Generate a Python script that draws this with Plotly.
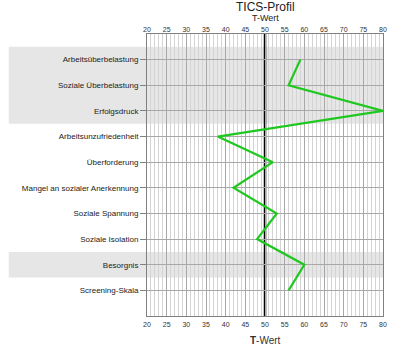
import plotly.graph_objects as go

categories = ["Arbeitsüberbelastung", "Soziale Überbelastung", "Erfolgsdruck",
              "Arbeitsunzufriedenheit", "Überforderung", "Mangel an sozialer Anerkennung",
              "Soziale Spannung", "Soziale Isolation", "Besorgnis", "Screening-Skala"]
t_values = [59, 56, 80, 38, 52, 42, 53, 48, 60, 56]
highlight_rows = [1, 2, 3, 9]  # shaded rows (1-based)
x_ticks = [20, 25, 30, 35, 40, 45, 50, 55, 60, 65, 70, 75, 80]

positions = list(range(1, len(categories) + 1))

fig = go.Figure()
fig.add_trace(go.Scatter(x=t_values, y=positions, mode="lines",
                         line=dict(color="#1ec81e", width=2.2), showlegend=False,
                         hoverinfo="skip"))
# invisible trace for the top axis
fig.add_trace(go.Scatter(x=[20, 80], y=[1, 1], xaxis="x2", mode="lines",
                         line=dict(width=0, color="rgba(0,0,0,0)"),
                         showlegend=False, hoverinfo="skip"))

shapes = []
x0_paper = (7 - 147) / (386 - 147)
rows = sorted(highlight_rows)
groups = []
for r in rows:
    if groups and r == groups[-1][1] + 1:
        groups[-1][1] = r
    else:
        groups.append([r, r])
for a, b in groups:
    shapes.append(dict(type="rect", xref="paper", yref="y", x0=x0_paper, x1=1,
                       y0=a - 0.5, y1=b + 0.5, fillcolor="#e6e6e6", opacity=1,
                       line=dict(width=0), layer="below"))
shapes.append(dict(type="line", xref="x", yref="paper", x0=50, x1=50, y0=0, y1=1,
                   opacity=1, line=dict(color="black", width=2.5), layer="between"))

fig.update_layout(
    width=399, height=350,
    margin=dict(l=147, r=13, t=34, b=34),
    paper_bgcolor="white", plot_bgcolor="rgba(0,0,0,0)",
    shapes=shapes,
    xaxis=dict(range=[20, 80], tickvals=x_ticks, color="#333333",
               tickfont=dict(family="Liberation Sans, Arial", size=7, color="#333333"),
               showgrid=True, gridcolor="#a8a8a8", gridwidth=1,
               minor=dict(dtick=1, showgrid=True, gridcolor="#d4d4d4", gridwidth=1),
               showline=True, linecolor="#808080", linewidth=1, mirror=True,
               ticks="", zeroline=False, ticklabelstandoff=2),
    xaxis2=dict(range=[20, 80], tickvals=x_ticks, overlaying="x", anchor="y",
                color="#333333",
                tickfont=dict(family="Liberation Sans, Arial", size=7, color="#333333"),
                side="top", showgrid=False, ticks="", showline=False, zeroline=False,
                ticklabelstandoff=0),
    yaxis=dict(range=[11, 0], tickvals=positions, ticktext=categories, color="#222222",
               tickfont=dict(family="Liberation Sans, Arial", size=8, color="#222222"),
               showgrid=True, gridcolor="#a8a8a8", gridwidth=1,
               showline=True, linecolor="#808080", linewidth=1, mirror=True,
               ticks="outside", ticklen=6, tickcolor="#808080", zeroline=False),
    annotations=[
        dict(text="TICS-Profil", xref="paper", yref="paper", x=0.5, y=1,
             yshift=36, yanchor="top", showarrow=False,
             font=dict(family="Liberation Sans, Arial", size=12, color="#222222")),
        dict(text="T-Wert", xref="paper", yref="paper", x=0.5, y=1,
             yshift=23, yanchor="top", showarrow=False,
             font=dict(family="Liberation Sans, Arial", size=9, color="#222222")),
        dict(text="<b>T</b>-Wert", xref="paper", yref="paper", x=0.5, y=0,
             yshift=-17, yanchor="top", showarrow=False,
             font=dict(family="Liberation Sans, Arial", size=10, color="#333333")),
    ],
)

fig.write_html("out.html")
